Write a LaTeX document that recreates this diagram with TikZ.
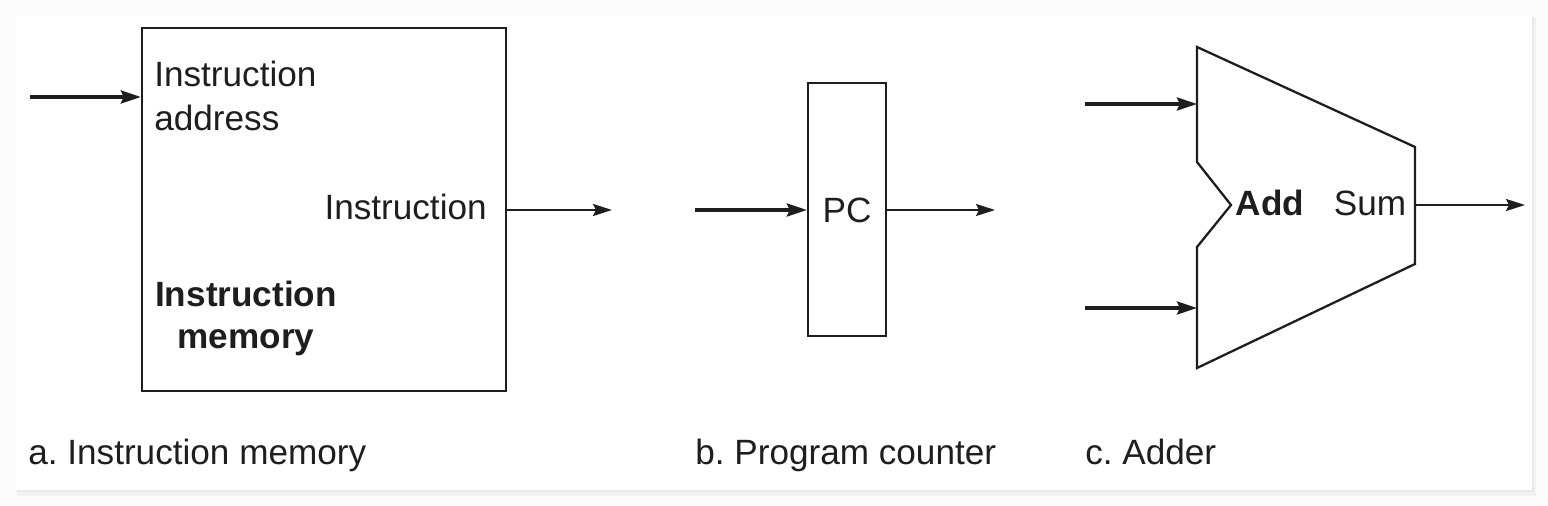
\documentclass[tikz,border=0pt]{standalone}
\usepackage{fontspec}
\setmainfont{Liberation Sans}
\usetikzlibrary{arrows.meta,positioning}
\definecolor{pagebg}{HTML}{FBFBFB}
\definecolor{cardshadow}{HTML}{E9E9E9}
\definecolor{inkgray}{HTML}{1E1E1E}
\frenchspacing

\begin{document}
\begin{tikzpicture}[
    x=0.02cm, y=-0.02cm,
    unit/.style={rectangle, draw=inkgray, line width=1.3pt, inner sep=0pt},
    lbl/.style={inner sep=0pt, font=\fontsize{20}{24}\selectfont, text=inkgray},
    blbl/.style={inner sep=0pt, font=\fontsize{20}{24}\selectfont\bfseries, text=inkgray},
    inarr/.style={-{Stealth[length=0.4cm, width=0.26cm, inset=0.06cm]}, line width=2.0pt, draw=inkgray},
    outarr/.style={-{Stealth[length=0.38cm, width=0.24cm, inset=0.06cm]}, line width=1.3pt, draw=inkgray}
  ]

  % ---- Background ----
  \fill[pagebg] (0,0) rectangle (1548,506);
  \fill[cardshadow!60] (17,18) rectangle (1536,496);
  \fill[cardshadow] (17,17) rectangle (1534,492);
  \fill[white] (16,16) rectangle (1532,490);

  % ============ a. INSTRUCTION MEMORY ============
  \node[unit, minimum width=7.28cm, minimum height=7.26cm] (imem) at (324,209.5) {};
  \node[lbl, anchor=base west] (imemaddr) at (154,87) {Instruction};
  \node[lbl, anchor=base west] (imemaddr2) at (154,131) {address};
  \node[lbl, anchor=base east] (imeminstr) at (487,220) {Instruction};
  \node[blbl, anchor=base] (imemname) at (246,307) {Instruction};
  \node[blbl, anchor=base] (imemname2) at (246,349) {memory};

  \coordinate (imemin) at (30,97);
  \coordinate (imemout) at (612,210);
  \draw[inarr] (imemin) -- (imemin -| imem.west);
  \draw[outarr] (imemout -| imem.east) -- (imemout);

  \node[lbl, anchor=base west] (capa) at (28,464) {a. Instruction memory};

  % ============ b. PROGRAM COUNTER ============
  \node[unit, minimum width=1.56cm, minimum height=5.06cm] (pc) at (847,209.5) {};
  \node[lbl, anchor=base] (pclbl) at (847,223) {PC};

  \coordinate (pcin) at (695,210);
  \coordinate (pcout) at (995,210);
  \draw[inarr] (pcin) -- (pcin -| pc.west);
  \draw[outarr] (pcout -| pc.east) -- (pcout);

  \node[lbl, anchor=base west] (capb) at (695,464) {b. Program counter};

  % ============ c. ADDER ============
  \coordinate (addtl) at (1197,47);
  \coordinate (addtr) at (1415,147);
  \coordinate (addbr) at (1415,264);
  \coordinate (addbl) at (1197,368);
  \coordinate (addnb) at (1197,247);
  \coordinate (addnotch) at (1231,205);
  \coordinate (addnt) at (1197,162);
  \draw[inkgray, line width=1.3pt, line join=miter]
    (addtl) -- (addtr) -- (addbr) -- (addbl) -- (addnb) -- (addnotch) -- (addnt) -- cycle;

  \node[blbl, anchor=base] (addlbl) at (1270,216) {Add};
  \node[lbl, anchor=base] (sumlbl) at (1370,216) {Sum};

  \coordinate (addina) at (1085,104);
  \coordinate (addinb) at (1085,308);
  \coordinate (addout) at (1525,205);
  \draw[inarr] (addina) -- (addina -| addtl);
  \draw[inarr] (addinb) -- (addinb -| addtl);
  \draw[outarr] (addout -| addtr) -- (addout);

  \node[lbl, anchor=base west] (capc) at (1085,464) {c. Adder};

\end{tikzpicture}
\end{document}
